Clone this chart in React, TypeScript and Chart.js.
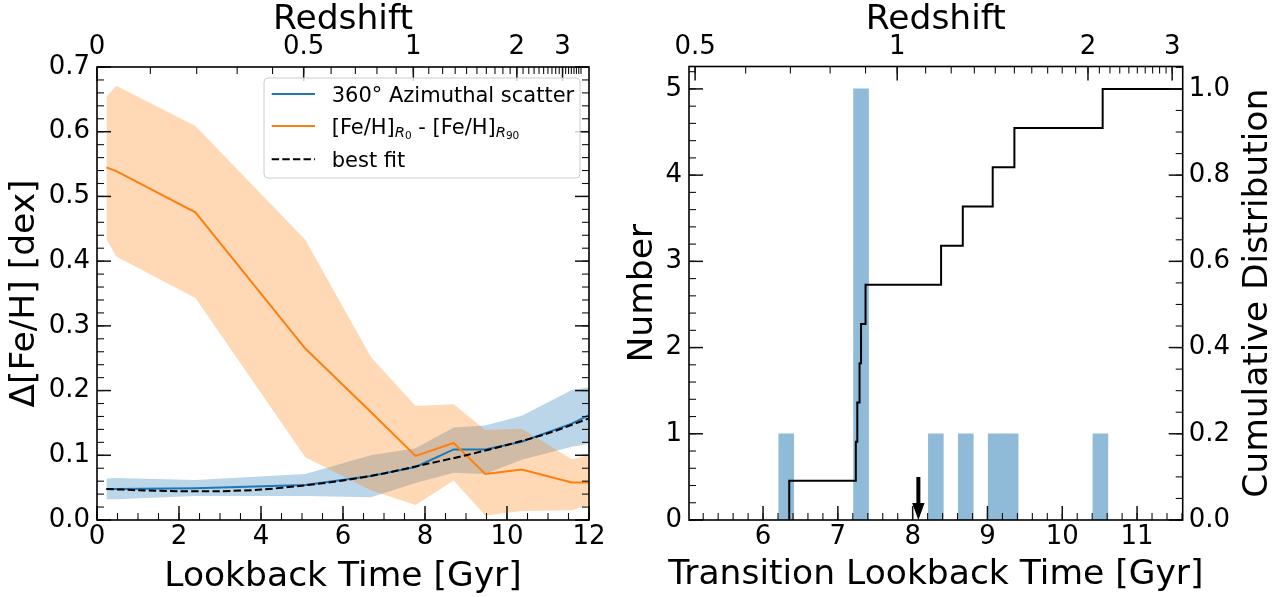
import React, { useEffect, useRef } from "react";
import { Chart, registerables } from "chart.js";

Chart.register(...registerables);

const FONT = "'DejaVu Sans', 'Liberation Sans', sans-serif";
const TICK_FONT = { family: FONT, size: 26 };
const TITLE_SIZE = 34.5;
const LEGEND_SIZE = 21;

// ---------- Left panel: metallicity differences vs lookback time ----------
const lookbackTimes = [0.23, 0.47, 2.4, 5.08, 6.68, 7.77, 8.7, 9.47, 10.36, 11.58, 12.0];
const azimuthalScatter = [0.048, 0.048, 0.049, 0.054, 0.068, 0.082, 0.109, 0.109, 0.121, 0.149, 0.162];
const azimuthalScatterHigh = [0.064, 0.065, 0.062, 0.071, 0.1, 0.111, 0.143, 0.146, 0.161, 0.201, 0.205];
const azimuthalScatterLow = [0.032, 0.032, 0.037, 0.037, 0.035, 0.057, 0.073, 0.071, 0.093, 0.113, 0.118];
const radialDifference = [0.545, 0.539, 0.4755, 0.265, 0.167, 0.099, 0.119, 0.071, 0.078, 0.058, 0.058];
const radialDifferenceHigh = [0.654, 0.671, 0.609, 0.433, 0.252, 0.176, 0.179, 0.139, 0.141, 0.094, 0.1];
const radialDifferenceLow = [0.434, 0.407, 0.343, 0.097, 0.046, 0.023, 0.061, 0.007, 0.014, 0.015, 0.023];
const fitTimes = [0.23, 1, 2, 3, 4, 5, 6, 7, 8, 9, 10, 11, 12];
const fitValues = [0.048, 0.046, 0.0445, 0.0445, 0.047, 0.053, 0.061, 0.072, 0.086, 0.1, 0.116, 0.134, 0.157];

const leftXTicks = [0, 2, 4, 6, 8, 10, 12];
const leftYTicks = [0, 0.1, 0.2, 0.3, 0.4, 0.5, 0.6, 0.7];
const leftRedshiftTicks = [0, 0.5, 1, 2, 3];
const leftRedshiftLabels = ["0", "0.5", "1", "2", "3"];

// ---------- Right panel: transition lookback times ----------
const binCenters = [6.31, 7.31, 8.31, 8.71, 9.11, 9.31, 10.51];
const binCounts = [1, 5, 1, 1, 1, 1, 1];
const transitionTimes = [6.35, 7.24, 7.26, 7.29, 7.31, 7.37, 8.38, 8.67, 9.07, 9.36, 10.54];
const cumulativeFraction = [0.0909, 0.1818, 0.2727, 0.3636, 0.4545, 0.5455, 0.6364, 0.7273, 0.8182, 0.9091, 1.0];
const arrowHeight = 0.5;

const rightXTicks = [6, 7, 8, 9, 10, 11];
const rightYTicks = [0, 1, 2, 3, 4, 5];
const rightCumTicks = [0, 0.2, 0.4, 0.6, 0.8, 1.0];
const rightRedshiftTicks = [0.5, 1, 2, 3];
const rightRedshiftLabels = ["0.5", "1", "2", "3"];

const LEFT_X = { min: 0, max: 12 };
const RIGHT_X = { min: 5.01, max: 11.61 };

// lookback time in Gyr for a flat LCDM cosmology (Simpson integration)
function lookbackGyr(z: number, h0: number, om: number): number {
  if (z <= 0) return 0;
  const f = (zz: number) => 1 / ((1 + zz) * Math.sqrt(om * Math.pow(1 + zz, 3) + 1 - om));
  const n = 400;
  const h = z / n;
  let s = 0;
  for (let i = 0; i <= n; i++) {
    const w = i === 0 || i === n ? 1 : i % 2 ? 4 : 2;
    s += w * f(i * h);
  }
  return (977.792 / h0) * (s * h) / 3;
}
const lookbackLeft = (z: number) => lookbackGyr(z, 70, 0.3);
const lookbackRight = (z: number) => lookbackGyr(z, 69.3, 0.3);

function steps(from: number, to: number, step: number): number[] {
  const out: number[] = [];
  const n = Math.round((to - from) / step);
  for (let i = 0; i <= n; i++) out.push(+(from + i * step).toFixed(6));
  return out;
}

const pts = (xs: number[], ys: number[]) => xs.map((x, i) => ({ x, y: ys[i] }));
const fixedTicks = (values: number[]) => (scale: any) => {
  scale.ticks = values.map((value) => ({ value }));
};

type Side = "top" | "bottom" | "left" | "right";
interface TickMarks {
  side: Side;
  scaleId: string;
  major: number[];
  minor: number[];
}

const MAJOR_LEN = 14;
const MINOR_LEN = 7;

// inward ticks on all four sides plus the black frame
function framePlugin(marks: TickMarks[]) {
  return {
    id: "frameTicks",
    afterDatasetsDraw(chart: any) {
      const { ctx, chartArea: a } = chart;
      ctx.save();
      ctx.strokeStyle = "#111";
      for (const m of marks) {
        const sc = chart.scales[m.scaleId];
        const horiz = m.side === "top" || m.side === "bottom";
        const one = (v: number, len: number) => {
          const p = sc.getPixelForValue(v);
          if (horiz ? p < a.left - 0.5 || p > a.right + 0.5 : p < a.top - 0.5 || p > a.bottom + 0.5) return;
          ctx.beginPath();
          if (m.side === "bottom") {
            ctx.moveTo(p, a.bottom);
            ctx.lineTo(p, a.bottom - len);
          } else if (m.side === "top") {
            ctx.moveTo(p, a.top);
            ctx.lineTo(p, a.top + len);
          } else if (m.side === "left") {
            ctx.moveTo(a.left, p);
            ctx.lineTo(a.left + len, p);
          } else {
            ctx.moveTo(a.right, p);
            ctx.lineTo(a.right - len, p);
          }
          ctx.stroke();
        };
        ctx.lineWidth = 1.1;
        m.minor.forEach((v) => one(v, MINOR_LEN));
        ctx.lineWidth = 1.5;
        m.major.forEach((v) => one(v, MAJOR_LEN));
      }
      ctx.strokeStyle = "#000";
      ctx.lineWidth = 1.6;
      ctx.strokeRect(a.left, a.top, a.right - a.left, a.bottom - a.top);
      ctx.restore();
    },
  };
}

interface AxisText {
  text: string;
  x: (a: any) => number;
  y: (a: any) => number;
  vertical?: boolean;
}

// axis titles drawn on the canvas (both vertical labels read bottom-to-top)
function titlesPlugin(items: AxisText[]) {
  return {
    id: "axisTitles",
    afterDraw(chart: any) {
      const { ctx, chartArea: a } = chart;
      ctx.save();
      ctx.fillStyle = "#000";
      ctx.font = `${TITLE_SIZE}px ${FONT}`;
      ctx.textAlign = "center";
      ctx.textBaseline = "alphabetic";
      for (const it of items) {
        const x = it.x(a);
        const y = it.y(a);
        if (it.vertical) {
          ctx.save();
          ctx.translate(x, y);
          ctx.rotate(-Math.PI / 2);
          ctx.fillText(it.text, 0, 0);
          ctx.restore();
        } else {
          ctx.fillText(it.text, x, y);
        }
      }
      ctx.restore();
    },
  };
}

interface Run {
  t: string;
  size: number;
  italic?: boolean;
  dy?: number;
}

function drawRuns(ctx: any, runs: Run[], x: number, y: number) {
  let cx = x;
  for (const r of runs) {
    ctx.font = `${r.italic ? "italic " : ""}${r.size}px ${FONT}`;
    ctx.fillText(r.t, cx, y + (r.dy || 0));
    cx += ctx.measureText(r.t).width;
  }
}

const legendPlugin = {
  id: "fehLegend",
  afterDraw(chart: any) {
    const { ctx, chartArea: a } = chart;
    const bx = a.right - 325;
    const by = a.top + 11;
    const bw = 316;
    const bh = 100;
    ctx.save();
    ctx.beginPath();
    if (ctx.roundRect) ctx.roundRect(bx, by, bw, bh, 4);
    else ctx.rect(bx, by, bw, bh);
    ctx.fillStyle = "rgba(255,255,255,0.8)";
    ctx.fill();
    ctx.strokeStyle = "#cccccc";
    ctx.lineWidth = 1;
    ctx.stroke();

    const rows = [by + 16, by + 48, by + 81.3];
    const lx0 = bx + 7.7;
    const lx1 = bx + 51;
    const tx = bx + 67.7;
    const styles = [
      { color: "#1f77b4", dash: [] as number[] },
      { color: "#ff7f0e", dash: [] as number[] },
      { color: "#000000", dash: [7.4, 3.2] },
    ];
    styles.forEach((s, i) => {
      ctx.beginPath();
      ctx.setLineDash(s.dash);
      ctx.strokeStyle = s.color;
      ctx.lineWidth = 2;
      ctx.moveTo(lx0, rows[i]);
      ctx.lineTo(lx1, rows[i]);
      ctx.stroke();
    });
    ctx.setLineDash([]);
    ctx.fillStyle = "#000";
    ctx.textAlign = "left";
    ctx.textBaseline = "alphabetic";
    const S = LEGEND_SIZE;
    drawRuns(ctx, [{ t: "360° Azimuthal scatter", size: S }], tx, rows[0] + 7.5);
    drawRuns(
      ctx,
      [
        { t: "[Fe/H]", size: S },
        { t: "R", size: S * 0.7, italic: true, dy: 3.3 },
        { t: "0", size: S * 0.5, dy: 5 },
        { t: " - [Fe/H]", size: S },
        { t: "R", size: S * 0.7, italic: true, dy: 3.3 },
        { t: "90", size: S * 0.5, dy: 5 },
      ],
      tx,
      rows[1] + 7.5
    );
    drawRuns(ctx, [{ t: "best fit", size: S }], tx, rows[2] + 7.5);
    ctx.restore();
  },
};

// arrow marking the mean transition time
const meanTransition = transitionTimes.reduce((s, v) => s + v, 0) / transitionTimes.length;
const arrowPlugin = {
  id: "meanArrow",
  afterDatasetsDraw(chart: any) {
    const { ctx } = chart;
    const xs = chart.scales.x;
    const ys = chart.scales.y;
    const px = xs.getPixelForValue(meanTransition);
    const top = ys.getPixelForValue(arrowHeight);
    const tip = ys.getPixelForValue(0);
    const headLen = 17;
    const headHalf = 6.2;
    const shaftHalf = 2;
    ctx.save();
    ctx.fillStyle = "#000";
    ctx.beginPath();
    ctx.moveTo(px - shaftHalf, top);
    ctx.lineTo(px + shaftHalf, top);
    ctx.lineTo(px + shaftHalf, tip - headLen);
    ctx.lineTo(px + headHalf, tip - headLen);
    ctx.lineTo(px, tip);
    ctx.lineTo(px - headHalf, tip - headLen);
    ctx.lineTo(px - shaftHalf, tip - headLen);
    ctx.closePath();
    ctx.fill();
    ctx.restore();
  },
};

const hiddenGrid = { display: false, drawTicks: false, offset: false };
const hiddenBorder = { display: false };

export default function App() {
  const leftRef = useRef<HTMLCanvasElement | null>(null);
  const rightRef = useRef<HTMLCanvasElement | null>(null);

  useEffect(() => {
    Chart.defaults.font.family = FONT;
    Chart.defaults.color = "#000";

    const band = (ys: number[], color: string, fill: any, order: number) => ({
      data: pts(lookbackTimes, ys),
      fill,
      backgroundColor: color,
      borderColor: "rgba(0,0,0,0)",
      borderWidth: 0,
      pointRadius: 0,
      tension: 0,
      order,
    });

    const leftChart = new Chart(leftRef.current as HTMLCanvasElement, {
      type: "line",
      data: {
        datasets: [
          band(azimuthalScatterHigh, "rgba(31,119,180,0.3)", "+1", 6),
          band(azimuthalScatterLow, "rgba(0,0,0,0)", false, 6),
          band(radialDifferenceHigh, "rgba(255,127,14,0.3)", "+1", 5),
          band(radialDifferenceLow, "rgba(0,0,0,0)", false, 5),
          {
            data: pts(lookbackTimes, azimuthalScatter),
            borderColor: "#1f77b4",
            borderWidth: 2,
            pointRadius: 0,
            fill: false,
            tension: 0,
            order: 3,
          },
          {
            data: pts(lookbackTimes, radialDifference),
            borderColor: "#ff7f0e",
            borderWidth: 2,
            pointRadius: 0,
            fill: false,
            tension: 0,
            order: 2,
          },
          {
            data: pts(fitTimes, fitValues),
            borderColor: "#000",
            borderWidth: 2,
            borderDash: [7.4, 3.2],
            pointRadius: 0,
            fill: false,
            tension: 0.3,
            order: 1,
          },
        ],
      },
      options: {
        responsive: false,
        animation: false,
        devicePixelRatio: 1,
        events: [],
        layout: { padding: { left: 0, right: 31, top: 0, bottom: 0 } },
        plugins: { legend: { display: false }, tooltip: { enabled: false } },
        scales: {
          x: {
            type: "linear",
            position: "bottom",
            min: LEFT_X.min,
            max: LEFT_X.max,
            grid: hiddenGrid,
            border: hiddenBorder,
            afterBuildTicks: fixedTicks(leftXTicks),
            ticks: { font: TICK_FONT, padding: 2, maxRotation: 0, autoSkip: false, callback: (v: any) => String(v) },
            afterFit: (s: any) => {
              s.height = 77;
            },
          },
          xTop: {
            type: "linear",
            position: "top",
            min: LEFT_X.min,
            max: LEFT_X.max,
            grid: hiddenGrid,
            border: hiddenBorder,
            afterBuildTicks: (s: any) => {
              s.ticks = leftRedshiftTicks.map((z) => ({ value: lookbackLeft(z) }));
            },
            ticks: {
              font: TICK_FONT,
              padding: 4,
              maxRotation: 0,
              autoSkip: false,
              callback: (_v: any, i: number) => leftRedshiftLabels[i],
            },
            afterFit: (s: any) => {
              s.height = 67;
            },
          },
          y: {
            type: "linear",
            position: "left",
            min: 0,
            max: 0.7,
            grid: hiddenGrid,
            border: hiddenBorder,
            afterBuildTicks: fixedTicks(leftYTicks),
            ticks: { font: TICK_FONT, padding: 7, autoSkip: false, callback: (v: any) => Number(v).toFixed(1) },
            afterFit: (s: any) => {
              s.width = 97;
            },
          },
        },
      } as any,
      plugins: [
        framePlugin([
          { side: "bottom", scaleId: "x", major: leftXTicks, minor: steps(0, 12, 0.5) },
          {
            side: "top",
            scaleId: "xTop",
            major: leftRedshiftTicks.map(lookbackLeft),
            minor: steps(0.1, 3.7, 0.1).map(lookbackLeft),
          },
          { side: "left", scaleId: "y", major: leftYTicks, minor: steps(0, 0.7, 0.02) },
          { side: "right", scaleId: "y", major: leftYTicks, minor: steps(0, 0.7, 0.02) },
        ]),
        legendPlugin,
        titlesPlugin([
          { text: "Redshift", x: (a) => (a.left + a.right) / 2, y: (a) => a.top - 37.7 },
          { text: "Lookback Time [Gyr]", x: (a) => (a.left + a.right) / 2, y: (a) => a.bottom + 66 },
          { text: "Δ[Fe/H] [dex]", x: (a) => a.left - 63, y: (a) => (a.top + a.bottom) / 2, vertical: true },
        ]),
      ],
    });

    const stepXs = [transitionTimes[0], ...transitionTimes, RIGHT_X.max];
    const stepYs = [0, ...cumulativeFraction, cumulativeFraction[cumulativeFraction.length - 1]];

    const rightChart = new Chart(rightRef.current as HTMLCanvasElement, {
      type: "bar",
      data: {
        datasets: [
          {
            type: "line",
            data: pts(stepXs, stepYs),
            stepped: "before",
            borderColor: "#000",
            borderWidth: 2,
            pointRadius: 0,
            fill: false,
            xAxisID: "x",
            yAxisID: "y2",
            order: 1,
          },
          {
            type: "bar",
            data: pts(binCenters, binCounts),
            backgroundColor: "rgb(143,187,217)",
            borderWidth: 0,
            barPercentage: 1,
            categoryPercentage: 1,
            xAxisID: "x",
            yAxisID: "y",
            order: 2,
          },
        ],
      } as any,
      options: {
        responsive: false,
        animation: false,
        devicePixelRatio: 1,
        events: [],
        layout: { padding: 0 },
        plugins: { legend: { display: false }, tooltip: { enabled: false } },
        scales: {
          x: {
            type: "linear",
            position: "bottom",
            offset: false,
            min: RIGHT_X.min,
            max: RIGHT_X.max,
            grid: hiddenGrid,
            border: hiddenBorder,
            afterBuildTicks: fixedTicks(rightXTicks),
            ticks: { font: TICK_FONT, padding: 2, maxRotation: 0, autoSkip: false, callback: (v: any) => String(v) },
            afterFit: (s: any) => {
              s.height = 77;
            },
          },
          xTop: {
            type: "linear",
            position: "top",
            offset: false,
            min: RIGHT_X.min,
            max: RIGHT_X.max,
            grid: hiddenGrid,
            border: hiddenBorder,
            afterBuildTicks: (s: any) => {
              s.ticks = rightRedshiftTicks.map((z) => ({ value: lookbackRight(z) }));
            },
            ticks: {
              font: TICK_FONT,
              padding: 4,
              maxRotation: 0,
              autoSkip: false,
              callback: (_v: any, i: number) => rightRedshiftLabels[i],
            },
            afterFit: (s: any) => {
              s.height = 66.5;
            },
          },
          y: {
            type: "linear",
            position: "left",
            min: 0,
            max: 5.26,
            grid: hiddenGrid,
            border: hiddenBorder,
            afterBuildTicks: fixedTicks(rightYTicks),
            ticks: { font: TICK_FONT, padding: 7, autoSkip: false, callback: (v: any) => String(v) },
            afterFit: (s: any) => {
              s.width = 69;
            },
          },
          y2: {
            type: "linear",
            position: "right",
            min: 0,
            max: 1.052,
            grid: hiddenGrid,
            border: hiddenBorder,
            afterBuildTicks: fixedTicks(rightCumTicks),
            ticks: { font: TICK_FONT, padding: 6, autoSkip: false, callback: (v: any) => Number(v).toFixed(1) },
            afterFit: (s: any) => {
              s.width = 105.3;
            },
          },
        },
      } as any,
      plugins: [
        framePlugin([
          { side: "bottom", scaleId: "x", major: rightXTicks, minor: steps(5.2, 11.6, 0.2) },
          {
            side: "top",
            scaleId: "xTop",
            major: rightRedshiftTicks.map(lookbackRight),
            minor: steps(0.5, 3.0, 0.1).map(lookbackRight),
          },
          { side: "left", scaleId: "y", major: rightYTicks, minor: steps(0, 5.2, 0.2) },
          { side: "right", scaleId: "y2", major: rightCumTicks, minor: steps(0, 1.05, 0.05) },
        ]),
        arrowPlugin,
        titlesPlugin([
          { text: "Redshift", x: (a) => (a.left + a.right) / 2, y: (a) => a.top - 37.2 },
          { text: "Transition Lookback Time [Gyr]", x: (a) => (a.left + a.right) / 2, y: (a) => a.bottom + 63.5 },
          { text: "Number", x: (a) => a.left - 37, y: (a) => (a.top + a.bottom) / 2, vertical: true },
          { text: "Cumulative Distribution", x: (a) => a.right + 84, y: (a) => (a.top + a.bottom) / 2, vertical: true },
        ]),
      ],
    });

    return () => {
      leftChart.destroy();
      rightChart.destroy();
    };
  }, []);

  return (
    <div style={{ position: "absolute", left: 0, top: 0, width: 1288, height: 597, background: "#fff" }}>
      <canvas ref={leftRef} width={620} height={597} style={{ position: "absolute", left: 0, top: 0 }} />
      <canvas ref={rightRef} width={668} height={597} style={{ position: "absolute", left: 620, top: 0 }} />
    </div>
  );
}
